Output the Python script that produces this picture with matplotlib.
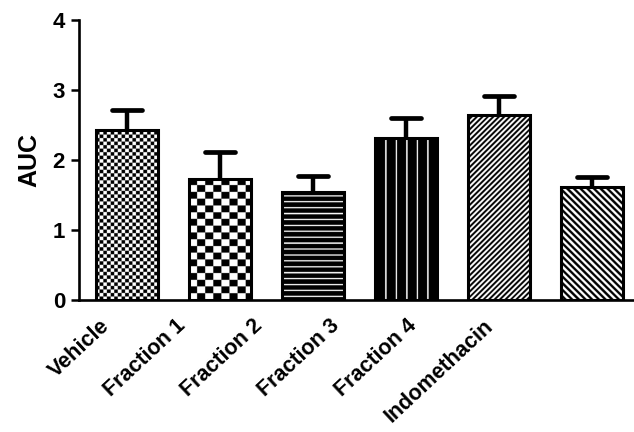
import numpy as np
import matplotlib
matplotlib.use("Agg")
import matplotlib.pyplot as plt
from matplotlib.transforms import ScaledTranslation

categories = ["Vehicle", "Fraction 1", "Fraction 2", "Fraction 3", "Fraction 4", "Indomethacin"]
means = [2.43, 1.73, 1.54, 2.31, 2.64, 1.61]
errors = [0.28, 0.38, 0.23, 0.29, 0.27, 0.15]
y_ticks = [0, 1, 2, 3, 4]

plt.rcParams['font.family'] = ['Liberation Sans', 'DejaVu Sans']
plt.rcParams['font.weight'] = 'bold'

W, H, DPI = 634, 432, 100
fig = plt.figure(figsize=(W / DPI, H / DPI), dpi=DPI)
ax = fig.add_axes([79 / W, 1 - 300 / H, (633 - 79) / W, (300 - 20) / H])

x = np.arange(len(categories))
bar_w = 0.66
ax.set_xlim(-0.516, 5.44)
ax.set_ylim(0, 4)

# texture functions in pixel coordinates (u: from bar left, v: from bar bottom); True -> white
def tex_checker(cw, ch):
    return lambda u, v: ((np.floor(u / cw) + np.floor(v / ch)) % 2) < 1

def tex_hlines(period, thick, off=0.0):
    return lambda u, v: ((v - off) % period) < thick

def tex_vlines(period, thick, off=0.0):
    return lambda u, v: ((u - off) % period) < thick

def tex_diag(period, sign):
    return lambda u, v: ((u + sign * v) % period) < period / 2

textures = [
    tex_checker(3.6, 3.5),
    tex_checker(8.0, 6.7),
    tex_hlines(5.9, 1.3, 3.0),
    tex_vlines(10.4, 1.4, 10.0),
    tex_diag(5.4, -1),
    tex_diag(6.6, 1),
]

bars = ax.bar(x, means, width=bar_w, facecolor='none', edgecolor='black',
              linewidth=2.2, zorder=3)

ss = 4
for b, tex in zip(bars, textures):
    x0, y0 = b.get_x(), b.get_y()
    x1, y1 = x0 + b.get_width(), y0 + b.get_height()
    p0 = ax.transData.transform((x0, y0))
    p1 = ax.transData.transform((x1, y1))
    wp, hp = p1[0] - p0[0], p1[1] - p0[1]
    nx, ny = max(int(wp * ss), 1), max(int(hp * ss), 1)
    u = (np.arange(nx) + 0.5) / ss
    v = (np.arange(ny) + 0.5) / ss
    U, V = np.meshgrid(u, v)
    img = tex(U, V).astype(float)  # 1 -> white, 0 -> black
    im = ax.imshow(img, cmap='gray', vmin=0, vmax=1, origin='lower',
                   extent=(x0, x1, y0, y1), aspect='auto',
                   interpolation='antialiased', zorder=2)
    im.set_clip_path(b)

# error bars (upper only)
tops = np.array(means) + np.array(errors)
ax.vlines(x, means, tops, colors='black', linewidth=3.2, zorder=1)
ax.hlines(tops, x - bar_w / 4, x + bar_w / 4, colors='black', linewidth=3.4,
          zorder=1, capstyle='round')

ax.set_xlim(-0.516, 5.44)
ax.set_ylim(0, 4)
ax.set_yticks(y_ticks)
ax.set_yticklabels([str(t) for t in y_ticks], fontsize=16, fontweight='bold')
ax.tick_params(axis='y', length=6, width=1.8, pad=4)
ax.tick_params(axis='x', length=0, pad=11)
ax.set_xticks(x)
labels = ax.set_xticklabels(categories, rotation=43, ha='right', va='top',
                            rotation_mode='anchor', fontsize=15.5, fontweight='bold')
for i, lab in enumerate(labels):
    dx = -(28 + 16.2 * i)
    lab.set_transform(lab.get_transform() + ScaledTranslation(dx / DPI, 0, fig.dpi_scale_trans))

ax.set_ylabel("AUC", fontsize=18, fontweight='bold', labelpad=8)

for s in ['top', 'right']:
    ax.spines[s].set_visible(False)
for s in ['left', 'bottom']:
    ax.spines[s].set_linewidth(1.9)

fig.savefig("out.png", dpi=DPI)
